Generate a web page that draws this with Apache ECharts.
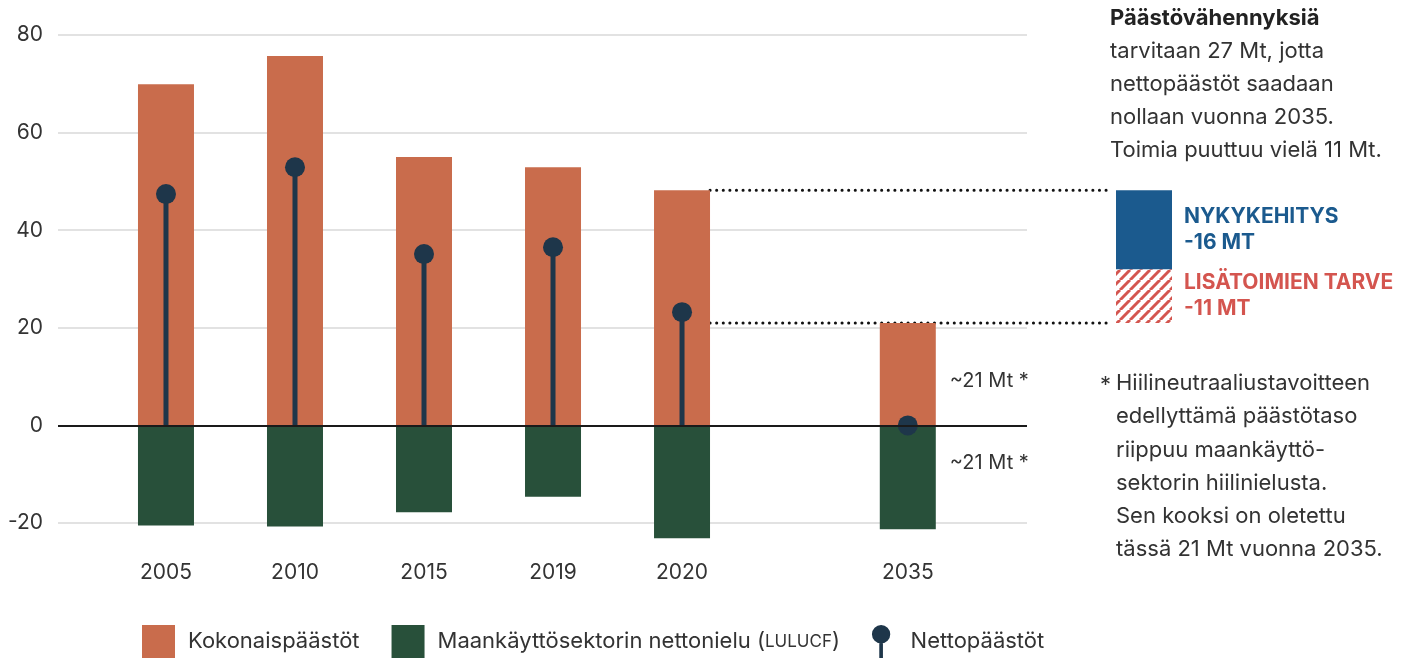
<!DOCTYPE html>
<html>
<head>
<meta charset="utf-8">
<script src="https://cdn.jsdelivr.net/npm/echarts@6/dist/echarts.min.js"></script>
<style>
  html, body { margin: 0; padding: 0; background: #fff; }
  #chart { width: 1416px; height: 660px; }
</style>
</head>
<body>
<div id="chart"></div>
<script>
// vuodet ja niiden paikka x-akselilla (2035 erotettu muista)
const years = ['2005', '2010', '2015', '2019', '2020', '2035']
const slot = [0, 1, 2, 3, 4, 5.75]
// Mt CO2-ekv.
const totalEmissions = [69.9, 75.7, 55.0, 52.9, 48.2, 21.0]
const lulucfSink = [-20.5, -20.7, -17.8, -14.6, -23.1, -21.3]
const netEmissions = [47.4, 52.9, 35.1, 36.5, 23.2, 0]
// vähennystarve 2020 -> 2035
const gapCurrent = [16.2]   // nykykehitys
const gapExtra = [11]       // lisätoimien tarve
const yTicks = [-20, 0, 20, 40, 60, 80]

const ORANGE = '#c96c4c'
const GREEN = '#28503a'
const NAVY = '#1e364a'
const BLUE = '#1b5a8e'
const RED = '#d4554f'
const FONT = 'Inter'
const TXT = 22

const chart = echarts.init(document.getElementById('chart'))

// vinoviivoitus lisätoimille
const hatch = document.createElement('canvas')
hatch.width = 10
hatch.height = 10
const hctx = hatch.getContext('2d')
hctx.strokeStyle = RED
hctx.lineWidth = 3
for (const k of [0, 10, 20]) {
    hctx.beginPath()
    hctx.moveTo(k - 10, 10)
    hctx.lineTo(k, 0)
    hctx.stroke()
}

const pinIcon = 'path://M10,0 A10,10 0 1 1 9.99,0 Z M8,14 L12,14 L12,36 L8,36 Z'

const option = {
    animation: false,
    textStyle: { fontFamily: FONT },
    grid: [
        { left: 58, right: 389, top: 35, bottom: 137 },
        { left: 1116, width: 56, top: 35, bottom: 137 }
    ],
    xAxis: [
        {
            type: 'value', gridIndex: 0,
            min: -0.837, max: 6.674,
            splitLine: { show: false },
            axisLine: { show: false },
            axisTick: { show: false },
            axisLabel: {
                customValues: slot,
                formatter: v => years[slot.indexOf(v)] || '',
                margin: 39, fontSize: 21, color: '#333', fontFamily: FONT
            }
        },
        { type: 'category', gridIndex: 1, data: ['2035'], show: false }
    ],
    yAxis: [
        {
            type: 'value', gridIndex: 0,
            min: yTicks[0], max: yTicks[yTicks.length - 1], interval: 20,
            axisLine: { show: false },
            axisTick: { show: false },
            axisLabel: { fontSize: 21, color: '#333', margin: 15, fontFamily: FONT },
            splitLine: { lineStyle: { color: '#d9d9d9', width: 1.5 } }
        },
        {
            type: 'value', gridIndex: 1,
            min: yTicks[0], max: yTicks[yTicks.length - 1], show: false
        }
    ],
    legend: {
        left: 142, top: 625, padding: 0,
        itemWidth: 33, itemHeight: 33, itemGap: 32,
        textStyle: {
            fontSize: TXT, color: '#333', fontFamily: FONT, padding: [0, 0, 0, 8],
            rich: {
                a: { fontSize: TXT, color: '#333', fontFamily: FONT },
                s: { fontSize: 17, color: '#333', fontFamily: FONT }
            }
        },
        formatter: name => name.indexOf('LULUCF') >= 0
            ? '{a|Maankäyttösektorin nettonielu (}{s|LULUCF}{a|)}'
            : name,
        data: [
            { name: 'Kokonaispäästöt', icon: 'rect' },
            { name: 'Maankäyttösektorin nettonielu (LULUCF)', icon: 'rect' },
            { name: 'Nettopäästöt', icon: pinIcon }
        ]
    },
    series: [
        {
            name: 'Kokonaispäästöt', type: 'bar', stack: 'e', clip: false,
            xAxisIndex: 0, yAxisIndex: 0, barWidth: 56,
            itemStyle: { color: ORANGE },
            data: totalEmissions.map((v, i) => [slot[i], v])
        },
        {
            name: 'Maankäyttösektorin nettonielu (LULUCF)', type: 'bar', stack: 'e', clip: false,
            xAxisIndex: 0, yAxisIndex: 0, barWidth: 56,
            itemStyle: { color: GREEN },
            data: lulucfSink.map((v, i) => [slot[i], v])
        },
        {
            name: 'Nettopäästöt', type: 'custom', clip: false,
            xAxisIndex: 0, yAxisIndex: 0, z: 3,
            itemStyle: { color: NAVY },
            data: netEmissions.map((v, i) => [slot[i], v]),
            renderItem: (params, api) => {
                const p0 = api.coord([api.value(0), 0])
                const p1 = api.coord([api.value(0), api.value(1)])
                return {
                    type: 'group',
                    children: [
                        {
                            type: 'rect',
                            shape: { x: p0[0] - 2.5, y: Math.min(p0[1], p1[1]), width: 5, height: Math.abs(p0[1] - p1[1]) },
                            style: { fill: NAVY }
                        },
                        { type: 'circle', shape: { cx: p1[0], cy: p1[1], r: 10 }, style: { fill: NAVY } }
                    ]
                }
            }
        },
        {
            name: 'nolla', type: 'line', xAxisIndex: 0, yAxisIndex: 0, z: 5,
            data: [],
            markLine: {
                silent: true, symbol: 'none', label: { show: false },
                lineStyle: { color: '#1a1a1a', width: 2, type: 'solid' },
                data: [{ yAxis: 0 }]
            }
        },
        {
            name: 'pohja', type: 'bar', stack: 'gap', xAxisIndex: 1, yAxisIndex: 1,
            barWidth: '100%', itemStyle: { color: 'rgba(0,0,0,0)' },
            data: [totalEmissions[5]]
        },
        {
            name: 'Lisätoimien tarve', type: 'bar', stack: 'gap', xAxisIndex: 1, yAxisIndex: 1,
            barWidth: '100%',
            itemStyle: { color: { image: hatch, repeat: 'repeat' } },
            label: {
                show: true, position: 'right', distance: 12,
                formatter: () => 'LISÄTOIMIEN TARVE\n-' + gapExtra[0] + ' MT',
                fontSize: 21, fontWeight: 'bold', color: RED, lineHeight: 26, fontFamily: FONT
            },
            data: gapExtra
        },
        {
            name: 'Nykykehitys', type: 'bar', stack: 'gap', xAxisIndex: 1, yAxisIndex: 1,
            barWidth: '100%', itemStyle: { color: BLUE },
            label: {
                show: true, position: 'right', distance: 12,
                formatter: () => 'NYKYKEHITYS\n-' + Math.round(gapCurrent[0]) + ' MT',
                fontSize: 21, fontWeight: 'bold', color: BLUE, lineHeight: 26, fontFamily: FONT
            },
            data: gapCurrent
        }
    ]
}
chart.setOption(option)

// katkoviivat ja tekstit
const px = (x, y) => chart.convertToPixel({ gridIndex: 0 }, [x, y])
const barRight = px(slot[4], 0)[0] + 28
const gapLeft = chart.convertToPixel({ gridIndex: 1 }, [0, 0])[0] - 28 - 6
const yTop = px(0, totalEmissions[4])[1]
const yLow = px(0, totalEmissions[5])[1]
const lbX = px(slot[5], 0)[0] + 28 + 14

const dotted = y => ({
    type: 'line', silent: true,
    shape: { x1: barRight, y1: y, x2: gapLeft, y2: y },
    style: { stroke: '#111', lineWidth: 3, lineDash: [0.1, 6.5], lineCap: 'round' }
})

chart.setOption({
    graphic: [
        dotted(yTop),
        dotted(yLow),
        {
            type: 'text', left: lbX, top: px(0, 8.6)[1] - 12,
            style: { text: '~21 Mt *', fontSize: 20, fill: '#333', fontFamily: FONT }
        },
        {
            type: 'text', left: lbX, top: px(0, -8.2)[1] - 12,
            style: { text: '~21 Mt *', fontSize: 20, fill: '#333', fontFamily: FONT }
        },
        {
            type: 'text', left: 1110, top: 2,
            style: {
                text: '{b|Päästövähennyksiä}\ntarvitaan 27 Mt, jotta\nnettopäästöt saadaan\nnollaan vuonna 2035.\nToimia puuttuu vielä 11 Mt.',
                fontSize: TXT, lineHeight: 33, fill: '#333', fontFamily: FONT,
                rich: { b: { fontWeight: 'bold', fontSize: TXT, fill: '#222', fontFamily: FONT, lineHeight: 33 } }
            }
        },
        {
            type: 'text', left: 1100, top: 369,
            style: { text: '*', fontSize: TXT, lineHeight: 33, fill: '#333', fontFamily: FONT }
        },
        {
            type: 'text', left: 1116, top: 367,
            style: {
                text: 'Hiilineutraaliustavoitteen\nedellyttämä päästötaso\nriippuu maankäyttö-\nsektorin hiilinielusta.\nSen kooksi on oletettu\ntässä 21 Mt vuonna 2035.',
                fontSize: TXT, lineHeight: 33.2, fill: '#333', fontFamily: FONT
            }
        }
    ]
})
</script>
</body>
</html>
